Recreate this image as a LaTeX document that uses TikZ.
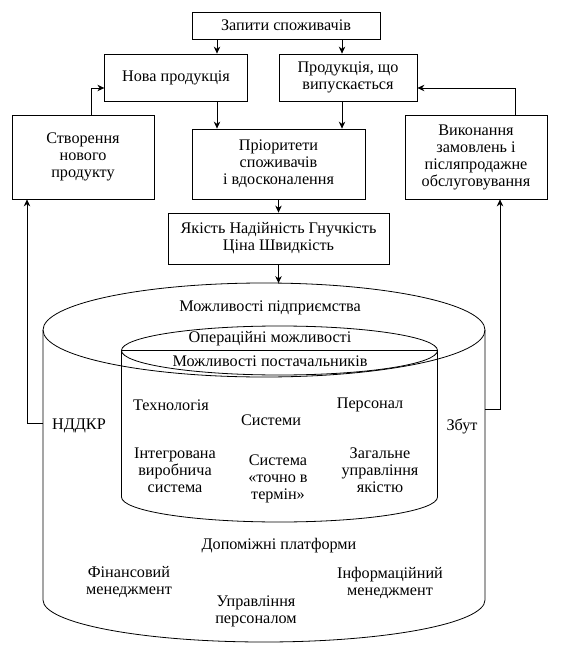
\documentclass[tikz,border=0pt]{standalone}
\usepackage{fontspec}
\setmainfont{Liberation Serif}
\newfontfamily\diagfont{Liberation Serif}
\usetikzlibrary{arrows.meta}
\begin{document}
\begin{tikzpicture}[x=1pt,y=-1pt,
  every node/.style={font=\diagfont\fontsize{16.2}{17}\selectfont, align=center, inner sep=0pt},
  box/.style={draw, line width=0.8pt},
  arr/.style={line width=0.8pt, -{Stealth[length=7pt,width=6.5pt]}},
  ln/.style={line width=0.8pt}]
\useasboundingbox (0,0) rectangle (560,652);
% boxes
\node[box, minimum width=188pt, minimum height=27pt] (q) at (286,25.5) {Запити споживачів};
\node[box, minimum width=142.5pt, minimum height=47pt] (new) at (176,77.5) {Нова продукція};
\node[box, minimum width=138pt, minimum height=47pt] (cur) at (348,77.5) {Продукція, що\\випускається};
\node[box, minimum width=173pt, minimum height=70pt] (pri) at (278.5,164) {Пріоритети\\споживачів\\і вдосконалення};
\node[box, minimum width=142pt, minimum height=84pt] (cre) at (83,157) {Створення\\нового\\продукту};
\node[box, minimum width=142pt, minimum height=84pt] (exe) at (476,157) {Виконання\\замовлень і\\післяпродажне\\обслуговування};
\node[box, minimum width=221pt, minimum height=51pt] (qual) at (278.5,238.5) {Якість Надійність Гнучкість\\Ціна Швидкість};
% helper coordinates
\coordinate (xa) at (217,0);
\coordinate (xb) at (342,0);
\coordinate (fl) at (91,88);
\coordinate (fr) at (515,88);
\coordinate (ctop) at (278.5,283.1);
\coordinate (cl) at (43,423);
\coordinate (cr) at (485,409);
\coordinate (lx) at (27,0);
\coordinate (rx) at (500,0);
% connectors
\draw[arr] (q.south -| xa) -- (new.north -| xa);
\draw[arr] (q.south -| xb) -- (cur.north -| xb);
\draw[arr] (new.south -| xa) -- (pri.north -| xa);
\draw[arr] (cur.south -| xb) -- (pri.north -| xb);
\draw[arr] (pri.south) -- (qual.north);
\draw[arr] (qual.south) -- (ctop);
\draw[arr] (cre.north -| fl) |- (new.west |- fl);
\draw[arr] (exe.north -| fr) |- (cur.east |- fr);
\draw[arr] (cl) -- (cl -| lx) -- (cre.south -| lx);
\draw[arr] (cr) -- (cr -| rx) -- (exe.south -| rx);
% outer cylinder
\draw[ln] (264,330) ellipse [x radius=221, y radius=47];
\draw[ln] (43,330) -- (43,600) arc[start angle=180, end angle=0, x radius=221, y radius=42] -- (485,330);
% inner cylinder
\draw[ln] (279.5,350.5) ellipse [x radius=158, y radius=24.5];
\draw[ln] (121.5,350.5) -- (437.5,350.5);
\draw[ln] (121.5,350.5) -- (121.5,497) arc[start angle=180, end angle=0, x radius=158, y radius=25] -- (437.5,350.5);
% texts
\node (t1) at (270,308) {Можливості підприємства};
\node (t2) at (270,339) {Операційні можливості};
\node (t3) at (270,361) {Можливості постачальників};
\node (t4) at (171,405) {Технологія};
\node (t5) at (271,420) {Системи};
\node (t6) at (370,405) {Персонал};
\node (t7) at (79,426) {НДДКР};
\node (t8) at (462,426) {Збут};
\node (t9) at (175,470.5) {Інтегрована\\виробнича\\система};
\node (t10) at (278,479) {Система\\«точно в\\термін»};
\node (t11) at (380,470.5) {Загальне\\управління\\якістю};
\node (t12) at (279,546) {Допоміжні платформи};
\node (t13) at (129,582.5) {Фінансовий\\менеджмент};
\node (t14) at (390,582.5) {Інформаційний\\менеджмент};
\node (t15) at (256,611.5) {Управління\\персоналом};
\end{tikzpicture}
\end{document}
